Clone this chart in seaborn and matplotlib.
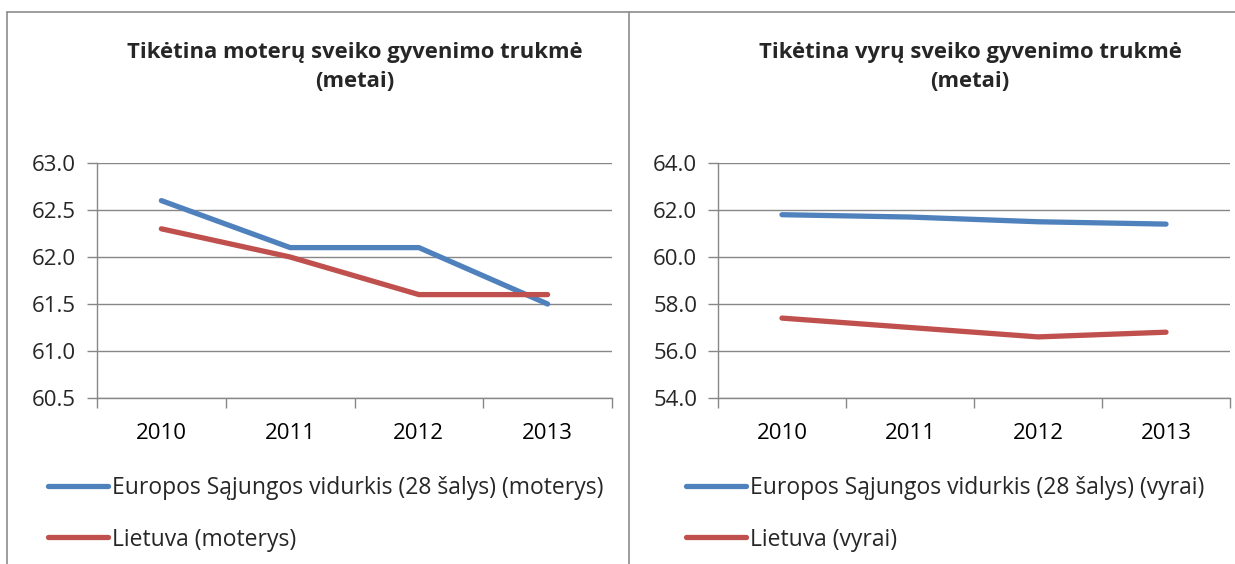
import matplotlib.pyplot as plt
import pandas as pd
import seaborn as sns
from matplotlib.lines import Line2D

years = ['2010', '2011', '2012', '2013']
eu_women = [62.6, 62.1, 62.1, 61.5]
lt_women = [62.3, 62.0, 61.6, 61.6]
eu_men = [61.8, 61.7, 61.5, 61.4]
lt_men = [57.4, 57.0, 56.6, 56.8]

titles = ['Tikėtina moterų sveiko gyvenimo trukmė\n(metai)',
          'Tikėtina vyrų sveiko gyvenimo trukmė\n(metai)']
labels_women = ['Europos Sąjungos vidurkis (28 šalys) (moterys)', 'Lietuva (moterys)']
labels_men = ['Europos Sąjungos vidurkis (28 šalys) (vyrai)', 'Lietuva (vyrai)']

BLUE = '#4F81BD'
RED = '#C0504D'
GRID = '#878787'

sns.set_style('white')
plt.rcParams['font.family'] = ['Open Sans', 'DejaVu Sans']

W, H = 1235, 564
fig = plt.figure(figsize=(W / 100, H / 100), dpi=100)


def make_frame(series, labels):
    rows = []
    for name, vals in zip(labels, series):
        for i, v in enumerate(vals):
            rows.append({'pos': i, 'value': v, 'series': name})
    return pd.DataFrame(rows)


def draw(rect, series, labels, ylim, ystep, title, title_x, leg_x):
    ax = fig.add_axes(rect)
    df = make_frame(series, labels)
    sns.lineplot(data=df, x='pos', y='value', hue='series', hue_order=labels,
                 palette=[BLUE, RED], linewidth=3.8, sort=False, legend=False, ax=ax)
    for ln in ax.lines:
        ln.set_solid_capstyle('round')
        ln.set_solid_joinstyle('round')
    ax.set_xlim(-0.5, len(years) - 0.5)
    ax.set_ylim(*ylim)
    yt = [ylim[0] + k * ystep for k in range(int(round((ylim[1] - ylim[0]) / ystep)) + 1)]
    ax.set_yticks(yt)
    ax.set_yticklabels([f'{v:.1f}' for v in yt])
    ax.set_xticks(range(len(years)))
    ax.set_xticklabels(years)
    ax.set_xticks([i - 0.5 for i in range(len(years) + 1)], minor=True)
    ax.tick_params(axis='x', which='major', length=0, pad=18, labelsize=16, colors='black')
    ax.tick_params(axis='x', which='minor', length=7, width=1, color=GRID, direction='out', bottom=True)
    ax.tick_params(axis='y', length=7, width=1, color=GRID, direction='out', pad=8,
                   labelsize=16, left=True)
    ax.yaxis.grid(True, color=GRID, linewidth=1)
    ax.set_axisbelow(True)
    for s in ['top', 'right']:
        ax.spines[s].set_visible(False)
    for s in ['left', 'bottom']:
        ax.spines[s].set_color(GRID)
        ax.spines[s].set_linewidth(1)
    ax.set_xlabel('')
    ax.set_ylabel('')
    fig.text(title_x / W, 1 - 67 / H, title, ha='center', va='center',
             fontsize=15.8, fontweight='bold', linespacing=1.45)
    ax.legend(ax.lines[:2], labels, loc='upper left',
              bbox_to_anchor=(leg_x / W, 1 - 476 / H), bbox_transform=fig.transFigure,
              frameon=False, fontsize=16.5, handlelength=2.6, handletextpad=0.2,
              labelspacing=1.2, borderpad=0, borderaxespad=0)
    return ax


draw([97 / W, 1 - 398 / H, 515 / W, 235 / H], [eu_women, lt_women], labels_women,
     (60.5, 63.0), 0.5, titles[0], 355, 48)
draw([718 / W, 1 - 398 / H, 512 / W, 235 / H], [eu_men, lt_men], labels_men,
     (54.0, 64.0), 2.0, titles[1], 970, 686)

# chart frames
frame_kw = dict(color='#8c8c8c', linewidth=1.2, transform=fig.transFigure)
fig.add_artist(Line2D([7 / W, 1], [1 - 12 / H, 1 - 12 / H], **frame_kw))
fig.add_artist(Line2D([7 / W, 7 / W], [0, 1 - 12 / H], **frame_kw))
fig.add_artist(Line2D([629 / W, 629 / W], [0, 1 - 12 / H], **frame_kw))

fig.savefig('out.png', dpi=100)
